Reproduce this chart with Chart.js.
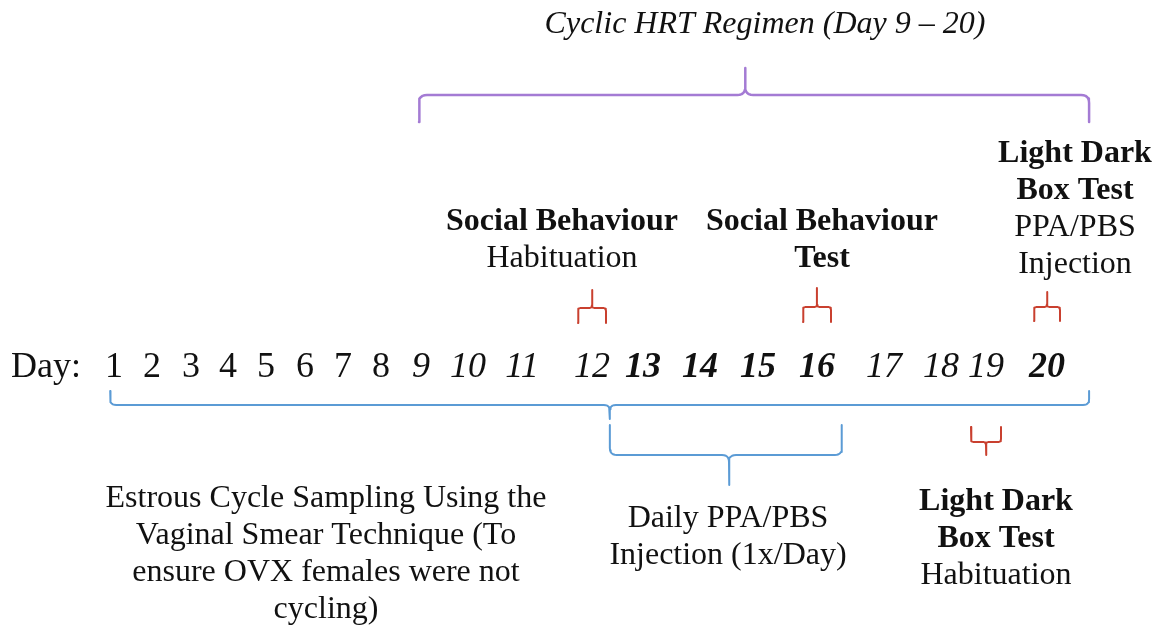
<!DOCTYPE html>
<html>
<head>
<meta charset="utf-8">
<script src="https://cdn.jsdelivr.net/npm/chart.js@4"></script>
<style>
  html, body { margin: 0; padding: 0; background: #fff; }
</style>
</head>
<body>
<canvas id="timeline" width="1166" height="627"></canvas>
<script>
// ---- data ----
var days = [1, 2, 3, 4, 5, 6, 7, 8, 9, 10, 11, 12, 13, 14, 15, 16, 17, 18, 19, 20];
var hrtDays = [9, 10, 11, 12, 13, 14, 15, 16, 17, 18, 19, 20];
var injectionDays = [13, 14, 15, 16, 20];

// phases drawn as long braces (start / end / tip given in days along the timeline)
var phaseLabels = [
  ["Cyclic HRT Regimen (Day 9 \u2013 20)"],
  ["Estrous Cycle Sampling Using the", "Vaginal Smear Technique (To", "ensure OVX females were not", "cycling)"],
  ["Daily PPA/PBS", "Injection (1x/Day)"]
];
var phaseStart = [8.95, 0.9, 12.35];
var phaseEnd = [20.69, 20.69, 16.37];
var phaseTip = [14.78, 12.35, 14.5];

// single-day events drawn as small red braces
var eventLabels = [
  ["Social Behaviour", "Habituation"],
  ["Social Behaviour", "Test"],
  ["Light Dark", "Box Test", "PPA/PBS", "Injection"],
  ["Light Dark", "Box Test", "Habituation"]
];
var eventBoldLines = [1, 2, 2, 2];
var eventDays = [12, 16, 20, 19];

// ---- layout (axis units match the 1166 x 627 page) ----
var dayPos = [114, 152, 191, 228, 266, 305, 343, 381, 421, 468, 522, 592, 643, 700, 758, 817, 884, 941, 986, 1047];
var phaseRows = [
  { bar: 95, arm: 122, tip: 68, r: 8, color: "#a47bd4", width: 2.5, textX: 765, textY: 33 },
  { bar: 405, arm: 391, tip: 419, r: 6, color: "#5b9bd5", width: 2, textX: 326, textY: 507 },
  { bar: 455, arm: 425, tip: 485, r: 7, color: "#5b9bd5", width: 2, textX: 728, textY: 527 }
];
var eventRows = [
  { bar: 308, arm: 323, tip: 290, half: 14, textX: 562, textY: 230 },
  { bar: 307, arm: 322, tip: 288, half: 14, textX: 822, textY: 230 },
  { bar: 307, arm: 321, tip: 292, half: 13, textX: 1075, textY: 162 },
  { bar: 442, arm: 427, tip: 455, half: 15, textX: 996, textY: 510 }
];
var red = "#c9402f";
var serif = '"Liberation Serif", "Times New Roman", serif';
var lineGap = 37;

// day -> position on the timeline axis (piecewise linear through the typeset day labels)
function posOf(d) {
  if (d <= 1) return dayPos[0] + (d - 1) * (dayPos[1] - dayPos[0]);
  if (d >= 20) return dayPos[19] + (d - 20) * (dayPos[19] - dayPos[18]);
  var i = Math.floor(d) - 1;
  return dayPos[i] + (d - Math.floor(d)) * (dayPos[i + 1] - dayPos[i]);
}

// points of a curly brace: arms point toward `arm`, the tip toward `tip`
function bracePoints(x0, x1, xt, bar, arm, tip, r) {
  var sa = arm > bar ? 1 : -1;
  var st = -sa;
  var pts = [];
  function quad(p0, c, p2) {
    for (var k = 0; k <= 6; k++) {
      var t = k / 6;
      pts.push({
        x: (1 - t) * (1 - t) * p0.x + 2 * (1 - t) * t * c.x + t * t * p2.x,
        y: (1 - t) * (1 - t) * p0.y + 2 * (1 - t) * t * c.y + t * t * p2.y
      });
    }
  }
  pts.push({ x: x0, y: arm });
  quad({ x: x0, y: bar + sa * r }, { x: x0, y: bar }, { x: x0 + r, y: bar });
  quad({ x: xt - r, y: bar }, { x: xt, y: bar }, { x: xt, y: bar + st * r });
  pts.push({ x: xt, y: tip });
  quad({ x: xt, y: bar + st * r }, { x: xt, y: bar }, { x: xt + r, y: bar });
  quad({ x: x1 - r, y: bar }, { x: x1, y: bar }, { x: x1, y: bar + sa * r });
  pts.push({ x: x1, y: arm });
  return pts;
}

var datasets = [];
phaseStart.forEach(function(s, i) {
  var row = phaseRows[i];
  datasets.push({
    data: bracePoints(posOf(s), posOf(phaseEnd[i]), posOf(phaseTip[i]), row.bar, row.arm, row.tip, row.r),
    borderColor: row.color,
    borderWidth: row.width
  });
});
eventDays.forEach(function(d, i) {
  var row = eventRows[i];
  var c = posOf(d);
  datasets.push({
    data: bracePoints(c - row.half, c + row.half, c, row.bar, row.arm, row.tip, 3),
    borderColor: red,
    borderWidth: 2
  });
});
datasets.forEach(function(ds) {
  ds.showLine = true;
  ds.pointRadius = 0;
  ds.fill = false;
  ds.tension = 0;
  ds.borderJoinStyle = "round";
  ds.borderCapStyle = "round";
});

// text: day row, phase and event labels
var textPlugin = {
  id: "timelineText",
  afterDraw: function(chart) {
    var ctx = chart.ctx;
    var xs = chart.scales.x, ys = chart.scales.y;
    ctx.save();
    ctx.fillStyle = "#111";
    ctx.textBaseline = "alphabetic";

    ctx.textAlign = "left";
    ctx.font = "36px " + serif;
    ctx.fillText("Day:", xs.getPixelForValue(11), ys.getPixelForValue(377));

    ctx.textAlign = "center";
    days.forEach(function(d) {
      var style = hrtDays.indexOf(d) >= 0 ? "italic " : "";
      var weight = injectionDays.indexOf(d) >= 0 ? "bold " : "";
      ctx.font = style + weight + "36px " + serif;
      ctx.fillText(String(d), xs.getPixelForValue(posOf(d)), ys.getPixelForValue(377));
    });

    phaseLabels.forEach(function(lines, i) {
      var row = phaseRows[i];
      ctx.font = (i === 0 ? "italic " : "") + "32px " + serif;
      lines.forEach(function(t, j) {
        ctx.fillText(t, xs.getPixelForValue(row.textX), ys.getPixelForValue(row.textY + j * lineGap));
      });
    });

    eventLabels.forEach(function(lines, i) {
      var row = eventRows[i];
      lines.forEach(function(t, j) {
        ctx.font = (j < eventBoldLines[i] ? "bold " : "") + "32px " + serif;
        ctx.fillText(t, xs.getPixelForValue(row.textX), ys.getPixelForValue(row.textY + j * lineGap));
      });
    });
    ctx.restore();
  }
};

new Chart(document.getElementById("timeline"), {
  type: "scatter",
  data: { datasets: datasets },
  options: {
    responsive: false,
    animation: false,
    devicePixelRatio: 1,
    events: [],
    layout: { padding: 0 },
    plugins: { legend: { display: false }, tooltip: { enabled: false } },
    scales: {
      x: { type: "linear", min: 0, max: 1166, display: false },
      y: { type: "linear", min: 0, max: 627, reverse: true, display: false }
    }
  },
  plugins: [textPlugin]
});
</script>
</body>
</html>
